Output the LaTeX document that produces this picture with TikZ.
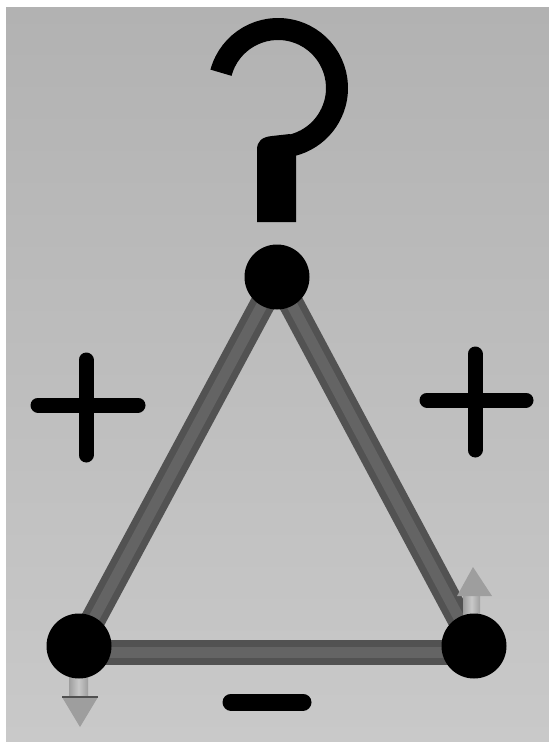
\documentclass[tikz,border=0pt]{standalone}
\pgfdeclarelayer{bgl}
\pgfdeclarelayer{rods}
\pgfsetlayers{bgl,rods,main}
\definecolor{bgtop}{RGB}{178,178,178}
\definecolor{bgbot}{RGB}{201,201,201}
\definecolor{roddark}{RGB}{82,82,82}
\definecolor{rodlight}{RGB}{100,100,100}
\definecolor{headgray}{RGB}{158,158,158}
\definecolor{shaftgray}{RGB}{200,200,200}
\definecolor{ringgray}{RGB}{80,80,80}
\tikzset{
  ball/.style={circle,fill=black,minimum size=65pt,inner sep=0pt},
  rod/.style={line width=25pt,draw=roddark},
  rodhi/.style={line width=11pt,draw=rodlight},
  sign/.style={line width=15pt,line cap=round,draw=black},
  qmark/.style={line width=22pt,draw=black},
  headstyle/.style={fill=headgray},
  shaftstyle/.style={left color=headgray,right color=headgray,middle color=shaftgray}
}
\begin{document}
\begin{tikzpicture}[x=1pt,y=-1pt]
\useasboundingbox (0,0) rectangle (549,742);
\begin{pgfonlayer}{bgl}
\fill[white] (0,0) rectangle (549,742);
\shade[top color=bgtop,bottom color=bgbot] (6,7) rectangle (549,742);
\end{pgfonlayer}

% arrows (behind the balls)
\shade[shaftstyle] (69,670) rectangle (88,699);
\fill[headstyle] (62,697) -- (98,697) -- (80,727) -- cycle;
\draw[ringgray,line width=2.5pt] (62,697) -- (98,697);
\shade[shaftstyle] (463,594) rectangle (480,622);
\fill[headstyle] (457,596) -- (492,596) -- (473,567) -- cycle;

% balls
\node[ball] (top) at (277,277) {};
\node[ball] (bl) at (79,646) {};
\node[ball] (br) at (474,646) {};

% rods
\begin{pgfonlayer}{rods}
\draw[rod] (top.center) -- (bl.center);
\draw[rod] (top.center) -- (br.center);
\draw[rod] ([yshift=-6pt]bl.center) -- ([yshift=-6pt]br.center);
\draw[rodhi] (top.center) -- (bl.center);
\draw[rodhi] (top.center) -- (br.center);
\draw[rodhi] ([yshift=-6pt]bl.center) -- ([yshift=-6pt]br.center);
\end{pgfonlayer}

% question mark
\draw[qmark] (278,88) ++(195:59) arc[start angle=195,end angle=450,radius=59];
\fill (257,222) -- (257,150) .. controls (257,141) and (262,137) .. (272,136)
      -- (290,134) -- (296,150) -- (296,222) -- cycle;

% signs
\draw[sign] (38,405) -- (138,405);
\draw[sign] (86,360) -- (86,455);
\draw[sign] (427,400) -- (526,400);
\draw[sign] (475,354) -- (475,450);
\draw[sign,line width=17pt] (231,702) -- (303,702);
\end{tikzpicture}
\end{document}
